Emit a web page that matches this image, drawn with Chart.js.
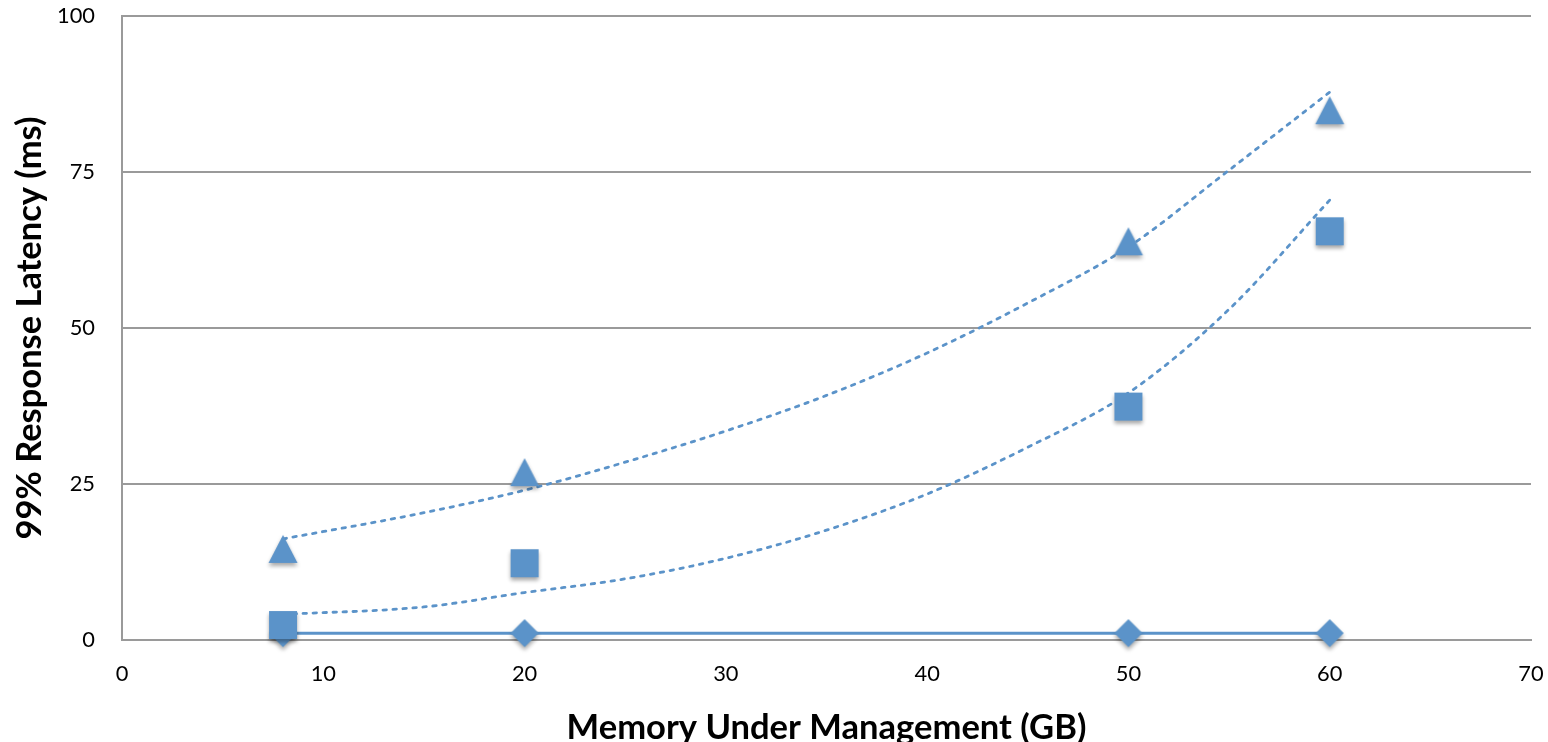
<!DOCTYPE html>
<html>
<head>
<meta charset="utf-8">
<script src="https://cdn.jsdelivr.net/npm/chart.js@4/dist/chart.umd.min.js"></script>
<style>
  html, body { margin: 0; padding: 0; background: #ffffff; }
  #wrap { width: 1548px; height: 742px; position: relative; }
</style>
</head>
<body>
<div id="wrap"><canvas id="c" width="1548" height="742"></canvas></div>
<script>
// ---- data ----
const xValues = [8, 20, 50, 60];
const diamondValues = [1.1, 1.1, 1.1, 1.1];
const squareValues = [2.4, 12.3, 37.4, 65.5];
const triangleValues = [14.6, 26.9, 63.9, 84.9];
const trendX = [8, 15, 20, 25, 30, 35, 40, 45, 50, 55, 60];
const squareTrend = [4.1, 5.3, 7.6, 9.8, 13.1, 17.6, 23.4, 30.9, 39.6, 53.0, 70.5];
const triangleTrend = [16.2, 20.4, 24.0, 28.5, 33.5, 39.2, 46.0, 54.0, 63.0, 75.3, 87.8];
const xTickValues = [0, 10, 20, 30, 40, 50, 60, 70];
const yTickValues = [0, 25, 50, 75, 100];
const xTitle = 'Memory Under Management (GB)';
const yTitle = '99% Response Latency (ms)';

// ---- styling ----
const BLUE = '#5b93c9';
const GRID = '#9a9a9a';
const FAMILY = 'Lato, "Open Sans", "Liberation Sans", sans-serif';

const mctx = document.createElement('canvas').getContext('2d');
function fitSize(text, weight, target) {
  mctx.font = weight + ' 100px ' + FAMILY;
  const w = mctx.measureText(text).width;
  return w > 0 ? 100 * target / w : 24;
}
const tickSize = fitSize('100', 'normal', 38);
const xTitleSize = fitSize(xTitle, 'bold', 520);
const yTitleSize = fitSize(yTitle, 'bold', 423);

function marker(shape) {
  const c = document.createElement('canvas');
  c.width = 44; c.height = 48;
  const g = c.getContext('2d');
  g.shadowColor = 'rgba(0,0,0,0.35)';
  g.shadowBlur = 4;
  g.shadowOffsetY = 3;
  g.fillStyle = BLUE;
  g.beginPath();
  const cx = 22, cy = 24;
  if (shape === 'diamond') {
    g.moveTo(cx, cy - 14); g.lineTo(cx + 14, cy); g.lineTo(cx, cy + 14); g.lineTo(cx - 14, cy);
  } else if (shape === 'square') {
    g.rect(cx - 14, cy - 14, 28, 28);
  } else {
    g.moveTo(cx, cy - 14); g.lineTo(cx + 14.5, cy + 14); g.lineTo(cx - 14.5, cy + 14);
  }
  g.closePath();
  g.fill();
  return c;
}

function pts(xs, ys) { return xs.map((x, i) => ({ x: x, y: ys[i] })); }

const markerCommon = { pointRadius: 0.5, pointBorderWidth: 0, pointHoverRadius: 0.5, showLine: false, clip: false };
const lineCommon = { showLine: true, pointRadius: 0, pointHoverRadius: 0, pointBorderWidth: 0, borderColor: BLUE, clip: false };

new Chart(document.getElementById('c'), {
  type: 'scatter',
  data: {
    datasets: [
      Object.assign({ label: 'triangles', data: pts(xValues, triangleValues), pointStyle: marker('triangle'), order: 0 }, markerCommon),
      Object.assign({ label: 'squares', data: pts(xValues, squareValues), pointStyle: marker('square'), order: 1 }, markerCommon),
      Object.assign({ label: 'diamonds', data: pts(xValues, diamondValues), pointStyle: marker('diamond'), order: 2 }, markerCommon),
      Object.assign({ label: 'diamond line', data: pts(xValues, diamondValues), borderWidth: 3, order: 3 }, lineCommon),
      Object.assign({ label: 'square trend', data: pts(trendX, squareTrend), borderWidth: 2.8, borderDash: [3.5, 6.5],
        borderCapStyle: 'round', cubicInterpolationMode: 'monotone', order: 4 }, lineCommon),
      Object.assign({ label: 'triangle trend', data: pts(trendX, triangleTrend), borderWidth: 2.8, borderDash: [3.5, 6.5],
        borderCapStyle: 'round', cubicInterpolationMode: 'monotone', order: 5 }, lineCommon)
    ]
  },
  options: {
    responsive: false,
    animation: false,
    events: [],
    layout: { padding: { top: 16, right: 17, left: 0, bottom: 0 } },
    plugins: { legend: { display: false }, tooltip: { enabled: false } },
    scales: {
      x: {
        type: 'linear', min: 0, max: 70,
        afterBuildTicks: s => { s.ticks = xTickValues.map(v => ({ value: v })); },
        afterFit: s => { s.height = 102; s.paddingLeft = 0; s.paddingRight = 0; },
        grid: { display: false, drawTicks: false },
        border: { display: true, color: GRID, width: 2 },
        ticks: { color: '#000', padding: 21, font: { family: FAMILY, size: tickSize } },
        title: { display: true, text: xTitle, color: '#000',
          font: { family: FAMILY, size: xTitleSize, weight: 'bold', lineHeight: 0.8 },
          padding: { top: 0, bottom: 0 } }
      },
      y: {
        type: 'linear', min: 0, max: 100,
        afterBuildTicks: s => { s.ticks = yTickValues.map(v => ({ value: v })); },
        afterFit: s => { s.width = 122; s.paddingTop = 0; s.paddingBottom = 0; },
        grid: { color: GRID, lineWidth: 2, drawTicks: false },
        border: { display: true, color: GRID, width: 2 },
        ticks: { color: '#000', padding: 27, font: { family: FAMILY, size: tickSize } },
        title: { display: true, text: yTitle, color: '#000',
          font: { family: FAMILY, size: yTitleSize, weight: 'bold', lineHeight: 0.8 },
          padding: { top: 16, bottom: 0 } }
      }
    }
  }
});
</script>
</body>
</html>
